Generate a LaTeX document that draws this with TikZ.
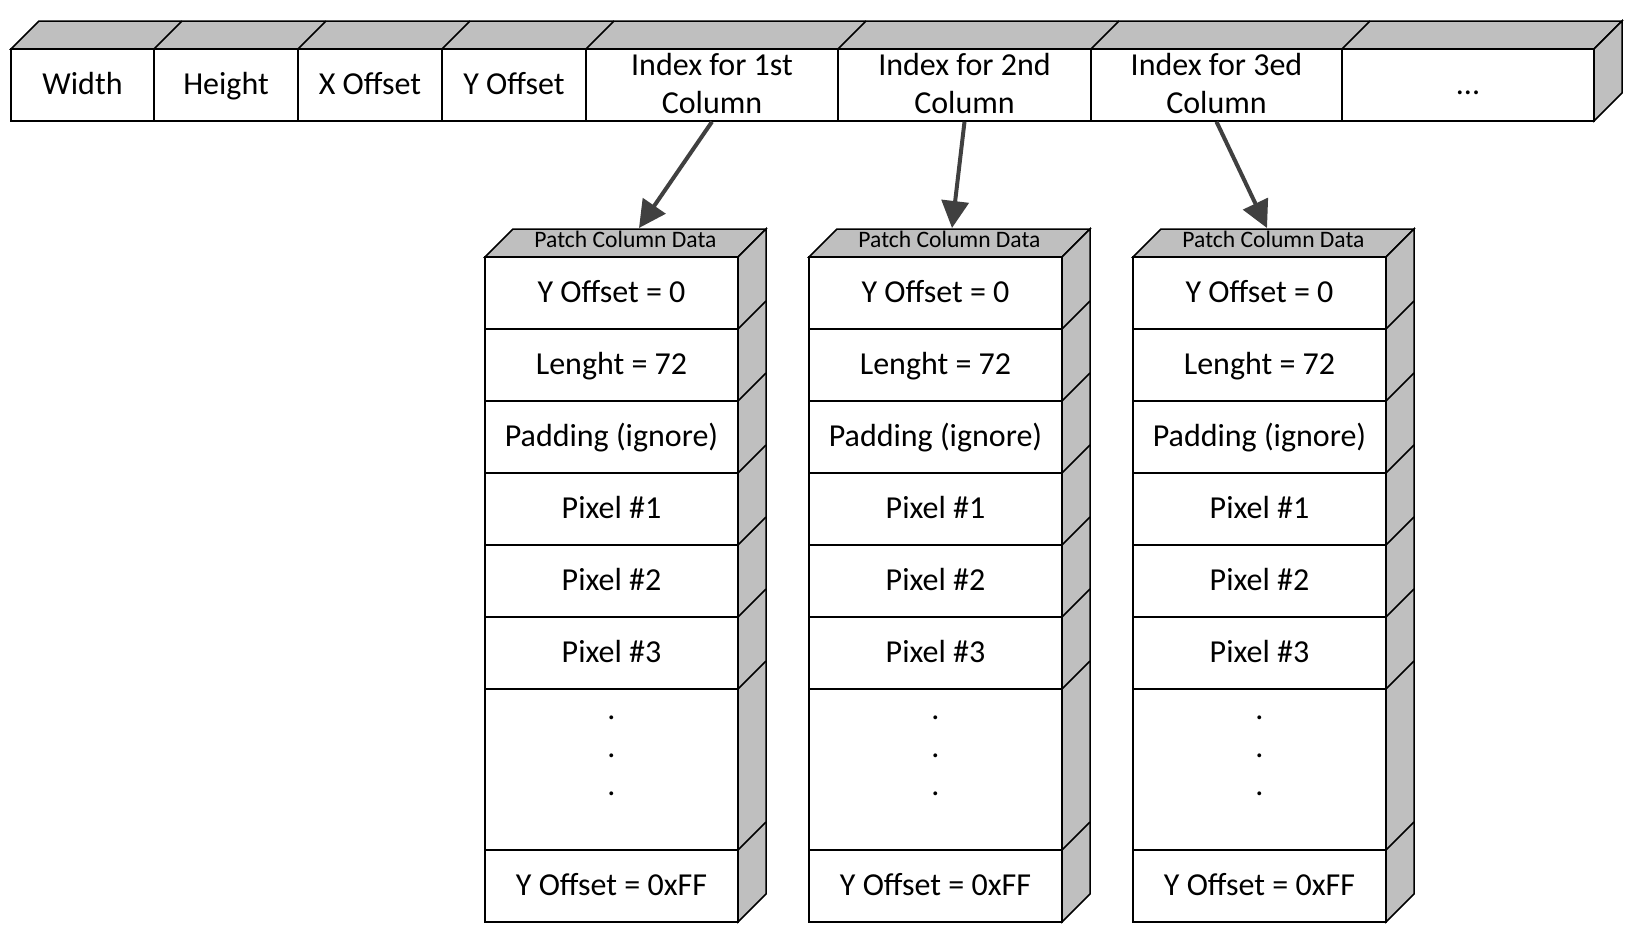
\documentclass[tikz,border=0pt]{standalone}
\usepackage{fontspec}
\setmainfont{Carlito}
\usetikzlibrary{arrows.meta}
\definecolor{shade}{RGB}{191,191,191}
\definecolor{arrowgray}{RGB}{64,64,64}
\begin{document}
\begin{tikzpicture}[x=0.5pt,y=-0.5pt,
  face/.style={draw=black, line width=0.75pt, fill=shade, line join=miter},
  edge/.style={draw=black, line width=0.75pt},
  cellbox/.style={draw=black, line width=0.75pt, fill=white, inner sep=0pt, rectangle,
     minimum height=36pt, font=\fontsize{16}{19}\selectfont,
     text height=9.2pt, text depth=0pt, align=center},
  twoline/.style={text height=28.2pt, text depth=0pt},
  rowbox/.style={cellbox, minimum width=126.5pt},
  dotsbox/.style={cellbox, minimum width=126.5pt, minimum height=80.5pt},
  dotstext/.style={inner sep=0pt, font=\fontsize{16}{19}\selectfont, align=center, anchor=base},
  hdr/.style={font=\fontsize{11.8}{14}\selectfont, inner sep=0pt, text height=7.6pt, text depth=0pt},
  link/.style={draw=arrowgray, line width=2pt, -{Triangle[length=13.5pt,width=13.5pt]}},
]
\useasboundingbox (0,0) rectangle (1643,933);

% ---- top bar: top and right faces
\draw[face] (11,49) -- (39,21) -- (1622,21) -- (1594,49) -- cycle;
\draw[face] (1594,49) -- (1622,21) -- (1622,93) -- (1594,121) -- cycle;
\foreach \xx in {154,298,442,586,838,1091,1342}{
  \draw[edge] (\xx,49) -- ({\xx+28},21);
}

% ---- top bar: front cells
\node[cellbox, minimum width=71.5pt] (w) at (82.5,85) {Width};
\node[cellbox, minimum width=72pt] (h) at (226,85) {Height};
\node[cellbox, minimum width=72pt] (xoff) at (370,85) {X Offset};
\node[cellbox, minimum width=72pt] (yoff) at (514,85) {Y Offset};
\node[cellbox, twoline, minimum width=126pt] (idx1) at (712,85) {Index for 1st\\Column};
\node[cellbox, twoline, minimum width=126.5pt] (idx2) at (964.5,85) {Index for 2nd\\Column};
\node[cellbox, twoline, minimum width=125.5pt] (idx3) at (1216.5,85) {Index for 3ed\\Column};
\node[cellbox, minimum width=126pt] (more) at (1468,85) {...};

% ---- patch column stacks
\foreach \xo/\i in {485/1,809/2,1133/3}{
  \draw[face] (\xo,257) -- ({\xo+28},229) -- ({\xo+281},229) -- ({\xo+253},257) -- cycle;
  \draw[face] ({\xo+253},257) -- ({\xo+281},229) -- ({\xo+281},894) -- ({\xo+253},922) -- cycle;
  \foreach \yy in {329,401,473,545,617,689,850}{
    \draw[edge] ({\xo+253},\yy) -- ({\xo+281},{\yy-28});
  }
  \node[hdr] (hd\i) at ({\xo+140.5},240) {Patch Column Data};
  \node[rowbox] (c\i-r1) at ({\xo+126.5},293) {Y Offset = 0};
  \node[rowbox] (c\i-r2) at ({\xo+126.5},365) {Lenght = 72};
  \node[rowbox] (c\i-r3) at ({\xo+126.5},437) {Padding (ignore)};
  \node[rowbox] (c\i-r4) at ({\xo+126.5},509) {Pixel \#1};
  \node[rowbox] (c\i-r5) at ({\xo+126.5},581) {Pixel \#2};
  \node[rowbox] (c\i-r6) at ({\xo+126.5},653) {Pixel \#3};
  \node[dotsbox] (c\i-r7) at ({\xo+126.5},769.5) {};
  \node[dotstext] (c\i-dots) at ({\xo+126.5},795) {.\\.\\.};
  \node[rowbox] (c\i-r8) at ({\xo+126.5},886) {Y Offset = 0xFF};
}

% ---- arrow targets on the stack tops
\coordinate (t1) at (639,228);
\coordinate (t2) at (952,228);
\coordinate (t3) at (1267,228);

\draw[link] (idx1.south) -- (t1);
\draw[link] (idx2.south) -- (t2);
\draw[link] (idx3.south) -- (t3);
\end{tikzpicture}
\end{document}
